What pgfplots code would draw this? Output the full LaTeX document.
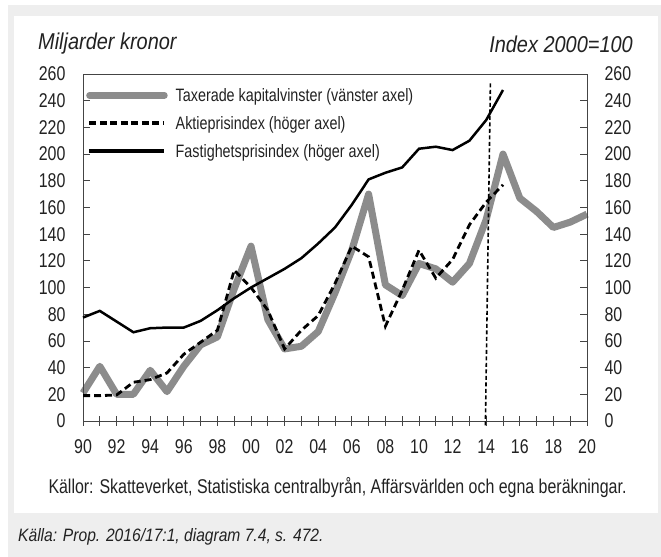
\documentclass[border=0pt]{standalone}
\usepackage{fontspec}
\setmainfont{Liberation Sans}[FakeStretch=0.8]
\newfontfamily\itfont{Liberation Sans Italic}[FakeStretch=0.87]
\usepackage{pgfplots}
\usepackage{pgfplotstable}
\pgfplotsset{compat=1.18}
\definecolor{bggray}{HTML}{EEEEEE}
\definecolor{linegray}{HTML}{8C8C8C}
\definecolor{axgray}{HTML}{444444}
\definecolor{txt}{HTML}{222222}

\pgfplotstableread{
year val
1990 21
1991 41
1992 20
1993 20
1994 38
1995 22
1996 41
1997 57
1998 63
1999 99
2000 131
2001 76
2002 54
2003 56
2004 67
2005 96
2006 128
2007 170
2008 102
2009 94
2010 118
2011 114
2012 104
2013 118
2014 151
2015 200
2016 167
2017 157
2018 145
2019 149
2020 155
}\taxerade

\pgfplotstableread{
year val
1990 19
1991 19
1992 19.5
1993 29
1994 31
1995 36
1996 50
1997 59
1998 68
1999 113
2000 100
2001 83
2002 54
2003 68
2004 79
2005 103
2006 131
2007 123
2008 71
2009 98
2010 128
2011 107
2012 121
2013 147
2014 164
2015 177
}\aktie

\pgfplotstableread{
year val
1990 77.5
1991 82.5
1992 74.5
1993 66.5
1994 69.5
1995 70
1996 70
1997 75
1998 83
1999 92
2000 100
2001 107
2002 114
2003 122
2004 133
2005 145
2006 162
2007 181
2008 186
2009 190
2010 204
2011 205.5
2012 203
2013 210
2014 225.5
2015 248
}\fastighet

\pgfplotsset{
  base/.style={
    at={(83bp,136bp)}, anchor=south west,
    scale only axis, width=504bp, height=347bp,
    xmin=1990, xmax=2020, ymin=0, ymax=260,
    axis line style={axgray, line width=0.8bp},
    every tick/.style={axgray, line width=0.8bp},
    /pgf/number format/assume math mode=true,
    tick label style={font=\fontsize{20}{22}\selectfont, txt},
    clip=false,
  }
}

\begin{document}
\begin{tikzpicture}[x=1bp,y=1bp]
\fill[white] (0,0) rectangle (661,557);
\fill[bggray] (8,0) rectangle (661,552);
\fill[white] (14,44) rectangle (658,541);

\node[anchor=west, txt, font=\fontsize{23}{25}\itfont, inner sep=0] at (38,513) {Miljarder kronor};
\node[anchor=east, txt, font=\fontsize{23}{25}\itfont, inner sep=0] at (633,513) {Index 2000=100};
\node[anchor=center, txt, font=\fontsize{20}{22}\selectfont, inner sep=0] at (337.5,69) {Källor: Skatteverket, Statistiska centralbyrån, Affärsvärlden och egna beräkningar.};
\node[anchor=west, txt, font=\fontsize{18}{20}\itfont, inner sep=0] at (18,20) {Källa: Prop. 2016/17:1, diagram 7.4, s. 472.};

% x axis ticks and the left-axis series
\begin{axis}[base,
  xtick={1990,1992,...,2020},
  xticklabels={90,92,94,96,98,00,02,04,06,08,10,12,14,16,18,20},
  minor xtick={1991,1993,...,2019},
  xtick pos=bottom,
  xtick align=center,
  major tick length=10bp, minor tick length=10bp,
  ytick=\empty,
  xticklabel style={yshift=-10bp},
]
\addplot[linegray, line width=7bp, line join=round] table[x=year,y=val] {\taxerade};
\end{axis}

% left y axis
\begin{axis}[base,
  xtick=\empty,
  ytick={0,20,...,260},
  ytick pos=left,
  ytick align=inside,
  major tick length=7bp,
  yticklabel style={xshift=-14bp},
]
\end{axis}

% right y axis and the index series
\begin{axis}[base,
  xtick=\empty,
  ytick={0,20,...,260},
  ytick pos=right, yticklabel pos=right,
  ytick align=inside,
  major tick length=7bp,
  yticklabel style={xshift=14bp},
  legend style={draw=none, fill=none, at={(0,1)}, anchor=north west,
    xshift=3bp, yshift=-12bp, font=\fontsize{18}{20}\selectfont, text=txt,
    row sep=9.5bp, column sep=6bp, inner sep=0pt, cells={anchor=west}},
  legend image code/.code={\draw[#1] (0bp,0bp) -- (75bp,0bp);},
]
\addlegendimage{linegray, line width=6.5bp, line cap=round}
\addlegendentry{Taxerade kapitalvinster (vänster axel)}
\addlegendimage{black, line width=4bp, dash pattern=on 7bp off 3.5bp}
\addlegendentry{Aktieprisindex (höger axel)}
\addlegendimage{black, line width=4bp}
\addlegendentry{Fastighetsprisindex (höger axel)}
\addplot[black, line width=2.8bp, dash pattern=on 7bp off 4bp, forget plot] table[x=year,y=val] {\aktie};
\addplot[black, line width=2.5bp, forget plot] table[x=year,y=val] {\fastighet};
\addplot[black, line width=1.6bp, dash pattern=on 4bp off 2.5bp, forget plot] coordinates {(2014.25,253) (2013.95,-5)};
\end{axis}
\end{tikzpicture}
\end{document}
